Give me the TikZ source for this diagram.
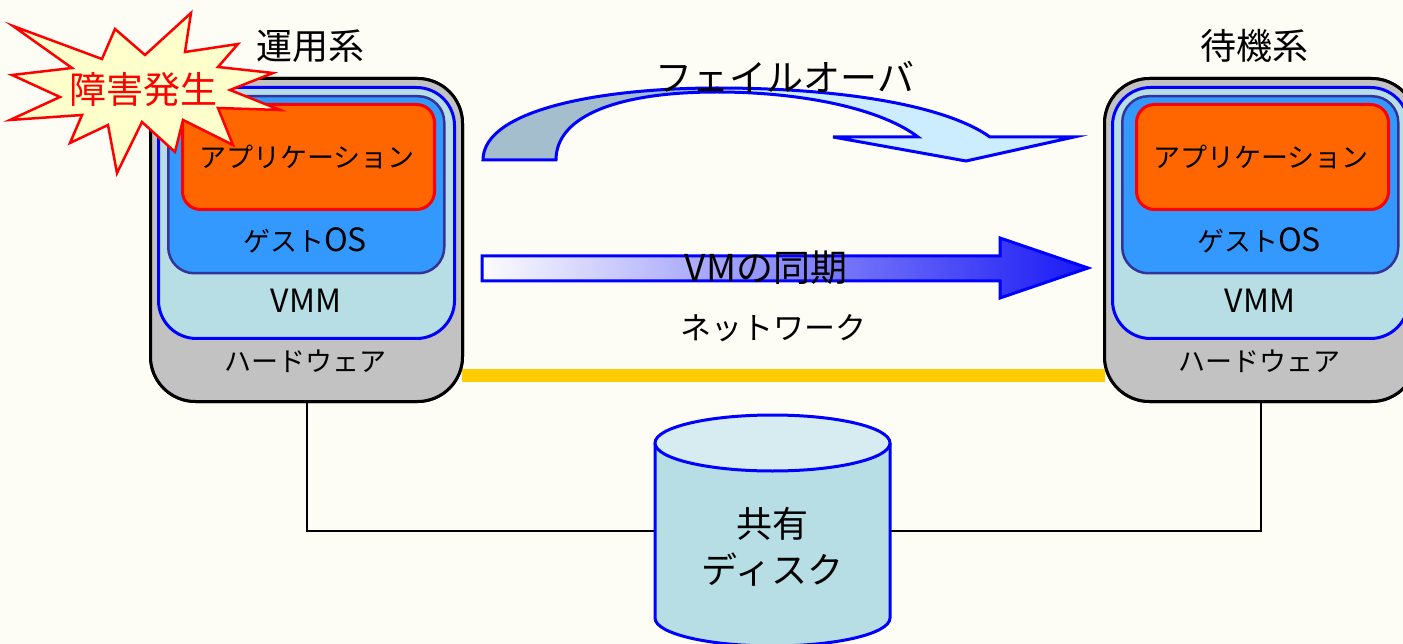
\documentclass[tikz,border=0pt]{standalone}
\usepackage{fontspec}
\setmainfont{Noto Sans CJK JP}
\usetikzlibrary{calc}
\definecolor{bgc}{RGB}{253,253,246}
\definecolor{hwgray}{RGB}{194,194,194}
\definecolor{vmmfill}{RGB}{183,222,228}
\definecolor{vmmline}{RGB}{0,0,255}
\definecolor{osfill}{RGB}{51,153,255}
\definecolor{osline}{RGB}{51,51,153}
\definecolor{appfill}{RGB}{255,102,0}
\definecolor{appline}{RGB}{255,0,0}
\definecolor{netyellow}{RGB}{255,204,0}
\definecolor{diskbody}{RGB}{183,222,228}
\definecolor{disktop}{RGB}{214,236,241}
\definecolor{failgray}{RGB}{165,190,206}
\definecolor{faillight}{RGB}{204,236,255}
\definecolor{starfill}{RGB}{255,255,204}
\definecolor{syncleft}{RGB}{252,252,255}
\definecolor{syncmid}{RGB}{190,190,252}
\definecolor{syncright}{RGB}{25,25,245}
\newcommand{\failoverpath}{(483,160) .. controls (483,110) and (600,88) .. (717,88) .. controls (840,88) and (945,105) .. (990,137) -- (1074,137) -- (966,161) -- (833,137) -- (918,137) .. controls (880,108) and (800,92) .. (717,92) .. controls (620,92) and (556,115) .. (556,160) -- cycle}
\newcommand{\latinbig}[1]{{\fontsize{32}{32}\selectfont #1}}
\begin{document}
\begin{tikzpicture}[x=1pt,y=-1pt,
  hw/.style={draw=black, line width=3pt, fill=hwgray, rounded corners=45pt, minimum width=312pt, minimum height=323pt, anchor=north west, inner sep=0},
  vmmbox/.style={draw=vmmline, line width=3pt, fill=vmmfill, rounded corners=38pt, minimum width=296pt, minimum height=251pt, anchor=north west, inner sep=0},
  osbox/.style={draw=osline, line width=2.5pt, fill=osfill, rounded corners=26pt, minimum width=276pt, minimum height=177pt, anchor=north west, inner sep=0},
  appbox/.style={draw=appline, line width=3pt, fill=appfill, rounded corners=18pt, minimum width=252pt, minimum height=105pt, anchor=north west, inner sep=0},
  lbl/.style={font=\fontsize{27}{32}\selectfont, inner sep=0, text=black},
  biglbl/.style={font=\fontsize{36}{44}\selectfont, inner sep=0, text=black},
  wire/.style={draw=black, line width=2pt},
  bluel/.style={draw=vmmline, line width=3pt, line join=miter}
]
\useasboundingbox (0,0) rectangle (1403,644);
\clip (0,0) rectangle (1403,644);
\fill[bgc] (0,0) rectangle (1403,644);

% machines
\node[hw] (hwL) at (149,77) {};
\node[hw] (hwR) at (1103,77) {};
\draw[netyellow, line width=13pt] ($(hwL.south east)+(-2,-28)$) -- ($(hwR.south west)+(2,-28)$);
\node[hw] at (149,77) {};
\node[hw] at (1103,77) {};
\node[vmmbox] (vmmL) at (157,86) {};
\node[vmmbox] (vmmR) at (1111,86) {};
\node[osbox] (osL) at (167,95) {};
\node[osbox] (osR) at (1121,95) {};
\node[appbox] (appL) at (181,103) {};
\node[appbox] (appR) at (1135,103) {};

\node[lbl] at (307,157) {アプリケーション};
\node[lbl] at (1261,157) {アプリケーション};
\node[lbl] at (305,240) {ゲスト\latinbig{OS}};
\node[lbl] at (1259,240) {ゲスト\latinbig{OS}};
\node[lbl] at (306,301) {\latinbig{VMM}};
\node[lbl] at (1260,301) {\latinbig{VMM}};
\node[lbl] at (305,361) {ハードウェア};
\node[lbl] at (1259,361) {ハードウェア};
\node[biglbl] at (310,46) {運用系};
\node[biglbl] at (1254,46) {待機系};

% shared disk
\node[inner sep=0, minimum width=235pt, minimum height=205pt] (disk) at (772.5,531) {};
\draw[wire] (hwL.south) |- (disk.west);
\draw[wire] (hwR.south) |- (disk.east);
\fill[diskbody] (655,443) -- (655,618) arc[start angle=180, end angle=360, x radius=117.5pt, y radius=28pt] -- (890,443) -- cycle;
\draw[bluel] (655,443) -- (655,618) arc[start angle=180, end angle=360, x radius=117.5pt, y radius=28pt] -- (890,443);
\draw[bluel, fill=disktop] (772.5,443) ellipse[x radius=117.5pt, y radius=28pt];
\node[biglbl, align=center, font=\fontsize{36}{46}\selectfont] at (772.5,547) {共有\\ディスク};

% failover arrow
\fill[faillight] \failoverpath;
\begin{scope}
  \clip (0,0) rectangle (715,200);
  \fill[failgray] \failoverpath;
\end{scope}
\draw[bluel] \failoverpath;
\node[font=\fontsize{37}{44}\selectfont, inner sep=0] at (785,77) {フェイルオーバ};

% VM sync arrow
\shade[left color=syncleft, middle color=syncmid, right color=syncright]
  (482,256) -- (1000,256) -- (1000,238) -- (1088,268) -- (1000,298) -- (1000,281) -- (482,281) -- cycle;
\draw[bluel] (482,256) -- (1000,256) -- (1000,238) -- (1088,268) -- (1000,298) -- (1000,281) -- (482,281) -- cycle;
\node[font=\fontsize{37}{44}\selectfont, inner sep=0] at (766,268) {VMの同期};
\node[font=\fontsize{31}{38}\selectfont, inner sep=0] at (773,328) {ネットワーク};

% failure star
\draw[draw=appline, line width=2.5pt, fill=starfill, line join=miter]
  (13,26) -- (102,59) -- (115,29) -- (145,55) -- (191,13) -- (185,52) -- (238,44) -- (218,67) -- (273,73) -- (230,90) -- (280,110) -- (218,108) -- (233,145) -- (183,120) -- (175,152) -- (142,122) -- (117,173) -- (108,125) -- (70,143) -- (82,115) -- (10,120) -- (60,97) -- (12,75) -- (72,68) -- cycle;
\node[font=\fontsize{37}{44}\selectfont, inner sep=0, text=appline] at (143,90) {障害発生};
\end{tikzpicture}
\end{document}
